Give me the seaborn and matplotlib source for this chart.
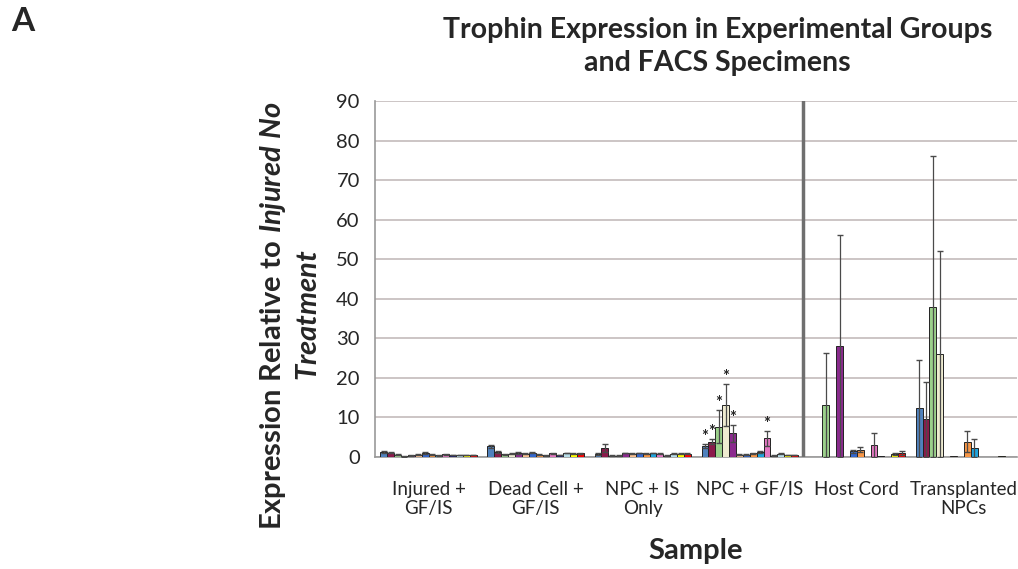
import numpy as np
import pandas as pd
import matplotlib
matplotlib.use("Agg")
import matplotlib.pyplot as plt
import seaborn as sns

SAMPLES = ["Injured +\nGF/IS", "Dead Cell +\nGF/IS", "NPC + IS\nOnly",
           "NPC + GF/IS", "Host Cord", "Transplanted\nNPCs"]
TROPHINS = [f"T{i}" for i in range(1, 15)]
COLORS = ["#4F81BD", "#8B1A4B", "#9BD08B", "#EEEBD0", "#8B2A8E", "#FAC090", "#3366CC",
          "#F79646", "#1FA2DB", "#E377C2", "#1F1F70", "#B7DDE8", "#FFFF00", "#FF0000"]

injured_vals = [1.3, 1.1, 0.6, 0.2, 0.4, 0.6, 1.0, 0.6, 0.4, 0.7, 0.5, 0.5, 0.5, 0.5]
injured_err = [0.2, 0.2, 0.1, 0.1, 0.1, 0.1, 0.2, 0.1, 0.1, 0.1, 0.1, 0.1, 0.1, 0.1]
dead_vals = [2.7, 1.3, 0.7, 0.8, 1.0, 0.8, 1.1, 0.6, 0.4, 0.9, 0.5, 1.0, 0.8, 0.9]
dead_err = [0.4, 0.2, 0.1, 0.1, 0.2, 0.1, 0.2, 0.1, 0.1, 0.2, 0.1, 0.1, 0.1, 0.1]
npc_is_vals = [0.8, 2.2, 0.3, 0.3, 1.0, 0.8, 1.0, 0.8, 1.0, 0.8, 0.3, 0.8, 0.8, 0.8]
npc_is_err = [0.2, 1.0, 0.1, 0.1, 0.1, 0.1, 0.1, 0.1, 0.1, 0.1, 0.1, 0.1, 0.1, 0.1]
npc_gf_vals = [2.7, 3.9, 7.7, 13.1, 6.0, 0.6, 0.6, 0.9, 1.3, 4.7, 0.3, 0.8, 0.5, 0.5]
npc_gf_err = [0.5, 0.6, 4.2, 5.3, 2.1, 0.1, 0.1, 0.1, 0.2, 1.9, 0.1, 0.1, 0.1, 0.1]
host_vals = [0, 0, 13.1, 0, 28.0, 0.1, 1.4, 1.9, 0, 3.1, 0.3, 0, 0.8, 1.0]
host_err = [0, 0, 13.1, 0, 28.0, 0, 0.3, 0.6, 0, 3.0, 0, 0, 0.2, 0.5]
trans_vals = [12.3, 9.5, 38.0, 26.0, 0, 0.3, 0.1, 3.9, 2.2, 0, 0, 0, 0.3, 0]
trans_err = [12.2, 9.5, 38.0, 26.0, 0, 0, 0, 2.7, 2.3, 0, 0, 0, 0, 0]

STARRED = [0, 1, 2, 3, 4, 9]  # bars in NPC + GF/IS marked significant

all_vals = [injured_vals, dead_vals, npc_is_vals, npc_gf_vals, host_vals, trans_vals]
all_err = [injured_err, dead_err, npc_is_err, npc_gf_err, host_err, trans_err]

rows = []
for s, vals, errs in zip(SAMPLES, all_vals, all_err):
    for t, v, e in zip(TROPHINS, vals, errs):
        rows.append({"sample": s, "trophin": t, "value": v, "err": e})
df = pd.DataFrame(rows)

sns.set_style("white")
plt.rcParams["font.family"] = ["Lato", "DejaVu Sans"]
plt.rcParams["mathtext.fontset"] = "custom"
plt.rcParams["mathtext.bf"] = "Lato:bold"
plt.rcParams["mathtext.bfit"] = "Lato:bold:italic"
plt.rcParams["mathtext.it"] = "Lato:italic"

fig = plt.figure(figsize=(10.18, 5.69), dpi=100)
ax = fig.add_axes([0.3684, 0.1968, 0.631, 0.6257])

sns.barplot(data=df, x="sample", y="value", hue="trophin", hue_order=TROPHINS,
            palette=COLORS, order=SAMPLES, width=0.9, errorbar=None, saturation=1,
            edgecolor="#222222", linewidth=0.7, legend=False, ax=ax, zorder=3)

bar_containers = list(ax.containers)
for i, cont in enumerate(bar_containers):
    for j, bar in enumerate(cont):
        e = all_err[j][i]
        v = all_vals[j][i]
        xc = bar.get_x() + bar.get_width() / 2
        if e > 0:
            ax.errorbar(xc, v, yerr=e, color="#4a4a4a", lw=0.9, capsize=2.2,
                        capthick=1.0, zorder=4)
        if j == 3 and i in STARRED:
            ax.text(xc, v + e - 0.2, "*", ha="center", va="bottom",
                    fontsize=12, fontweight="bold", color="#222222", zorder=5)

ax.set_xlim(-0.5, 5.5)
ax.set_ylim(0, 90)
ax.set_yticks(np.arange(0, 91, 10))
ax.yaxis.grid(True, color="#C8C0C0", lw=1.3, zorder=0)
ax.set_axisbelow(True)
ax.axvline(3.5, color="#6f6f6f", lw=2.5, zorder=6)

for sp in ["top", "right"]:
    ax.spines[sp].set_visible(False)
ax.spines["left"].set_color("#999999")
ax.spines["bottom"].set_color("#999999")
ax.spines["left"].set_linewidth(1.2)
ax.spines["bottom"].set_linewidth(1.2)

ax.tick_params(axis="y", length=7, color="#bbbbbb", width=1.2, labelsize=14.5, pad=4)
ax.tick_params(axis="x", which="major", length=0, labelsize=13.5, pad=17)
ax.set_xticks(np.arange(-0.5, 5.6, 1), minor=True)
ax.tick_params(axis="x", which="minor", length=5, color="#999999", width=1)
ax.set_xlabel("")
ax.set_ylabel("")

fig.text(0.011, 0.963, "A", fontsize=24, fontweight="bold", ha="left", va="center")
fig.text(0.705, 0.918, "Trophin Expression in Experimental Groups\nand FACS Specimens",
         fontsize=20.5, fontweight="bold", ha="center", va="center", linespacing=1.35)
fig.text(0.683, 0.032, "Sample", fontsize=21, fontweight="bold", ha="center", va="center")
ylab = (r"$\mathbf{Expression\ Relative\ to}\ \mathbfit{Injured\ No}$" + "\n"
        + r"$\mathbfit{Treatment}$")
fig.text(0.285, 0.446, ylab, fontsize=21, rotation=90, ha="center", va="center",
         multialignment="center", linespacing=1.35)

fig.savefig("out.png", dpi=100)
